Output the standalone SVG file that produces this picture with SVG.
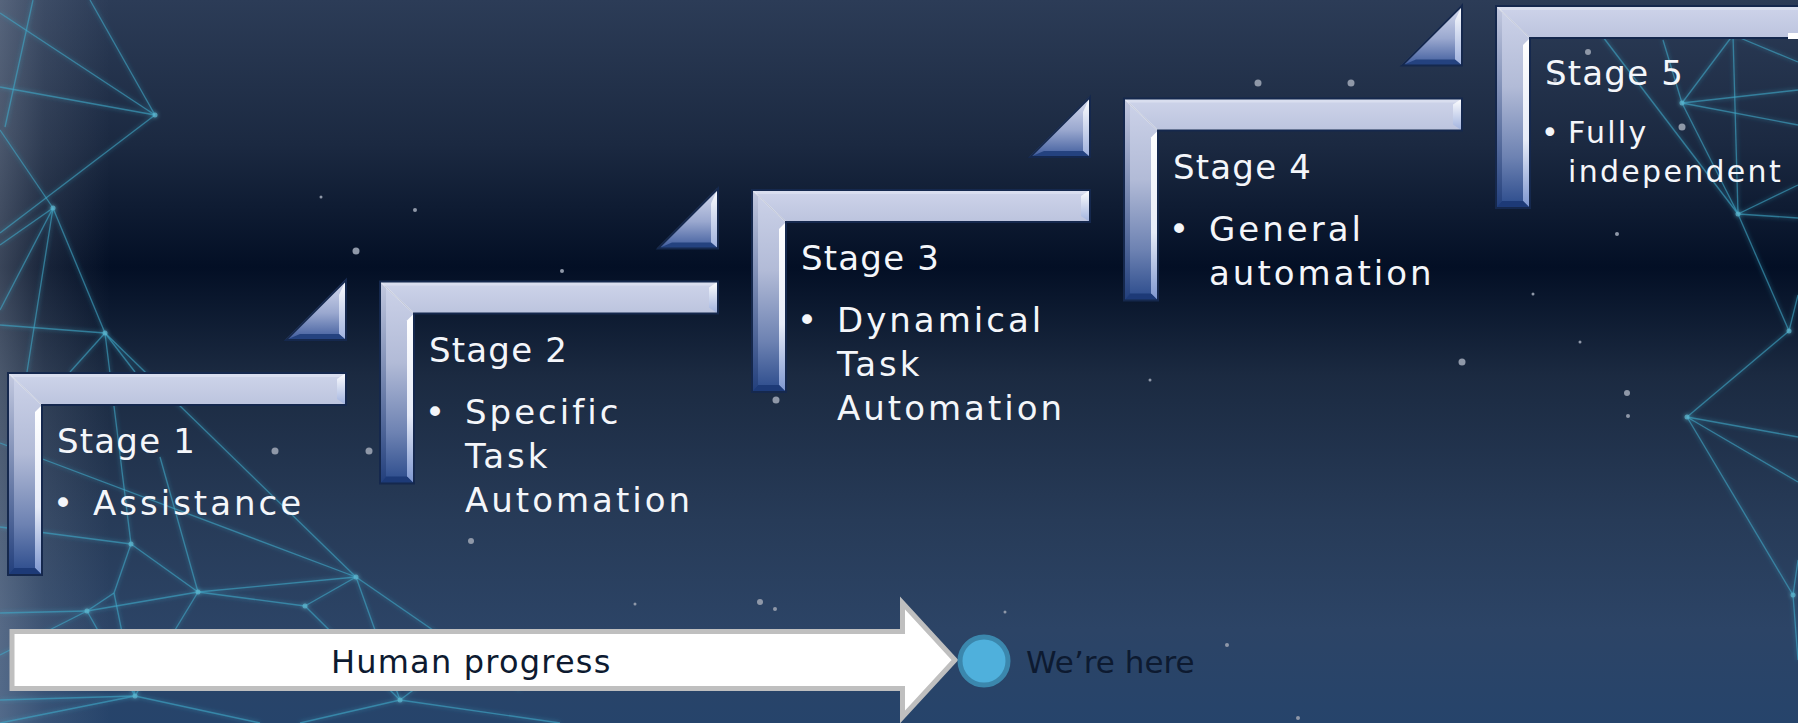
<svg xmlns="http://www.w3.org/2000/svg" width="1798" height="723" viewBox="0 0 1798 723">
<defs>
<linearGradient id="bg" x1="0" y1="0" x2="0" y2="1">
<stop offset="0" stop-color="#2c3c57"/>
<stop offset="0.2" stop-color="#1b2941"/>
<stop offset="0.37" stop-color="#030f25"/>
<stop offset="0.52" stop-color="#1b2a41"/>
<stop offset="0.72" stop-color="#273b58"/>
<stop offset="0.87" stop-color="#2c4466"/>
<stop offset="1" stop-color="#26446b"/>
</linearGradient>
<linearGradient id="vig" x1="0" y1="0" x2="1" y2="0">
<stop offset="0" stop-color="#b8c2d2" stop-opacity="0.3"/>
<stop offset="0.4" stop-color="#b8c2d2" stop-opacity="0.12"/>
<stop offset="1" stop-color="#b8c2d2" stop-opacity="0"/>
</linearGradient>
<linearGradient id="hbar" x1="0" y1="0" x2="0" y2="1">
<stop offset="0" stop-color="#ced4ea"/>
<stop offset="1" stop-color="#bcc4de"/>
</linearGradient>
<linearGradient id="vbar" x1="0" y1="0" x2="0" y2="1">
<stop offset="0" stop-color="#cdd3e9"/>
<stop offset="0.4" stop-color="#b2bbd7"/>
<stop offset="0.75" stop-color="#6d82b2"/>
<stop offset="1" stop-color="#2a4a8b"/>
</linearGradient>
<linearGradient id="vhi" x1="0" y1="0" x2="0" y2="1">
<stop offset="0" stop-color="#ffffff"/>
<stop offset="0.6" stop-color="#e6ebf8"/>
<stop offset="1" stop-color="#7d96cf"/>
</linearGradient>
<linearGradient id="vlo" x1="0" y1="0" x2="0" y2="1">
<stop offset="0" stop-color="#c3c9e0"/>
<stop offset="1" stop-color="#223f7c"/>
</linearGradient>
<linearGradient id="tri" x1="0" y1="0" x2="0" y2="1">
<stop offset="0" stop-color="#d7dcef"/>
<stop offset="0.55" stop-color="#9aa8cf"/>
<stop offset="1" stop-color="#3e5b9c"/>
</linearGradient>
<linearGradient id="trihi" x1="0" y1="0" x2="0" y2="1">
<stop offset="0" stop-color="#ffffff"/>
<stop offset="1" stop-color="#9fb1de"/>
</linearGradient>
<filter id="glow" x="-5%" y="-5%" width="110%" height="110%">
<feGaussianBlur stdDeviation="2.2" result="b"/>
<feMerge><feMergeNode in="b"/><feMergeNode in="SourceGraphic"/></feMerge>
</filter>
<g id="bracket">
<path d="M0,0 L34,32 L34,202 L0,202 Z" fill="url(#vbar)"/>
<path d="M0,0 L338,0 L338,32 L34,32 Z" fill="url(#hbar)"/>
<path d="M0,0 L338,0 L333,4 L4,4 Z" fill="#d9deef"/>
<path d="M338,0 L338,32 L329,26 L329,6 Z" fill="url(#trihi)"/>
<path d="M34,32 L34,202 L27,195 L27,39 Z" fill="url(#vhi)"/>
<path d="M0,0 L6,6 L6,195 L0,202 Z" fill="url(#vlo)"/>
<path d="M0,202 L34,202 L27,195 L6,195 Z" fill="#1d3a77"/>
<path d="M0,0 L34,32" stroke="#ffffff" stroke-opacity="0.45" stroke-width="1.2"/>
<path d="M0,0 H338 V32 H34 V202 H0 Z" fill="none" stroke="#15284d" stroke-width="2"/>
<path d="M338,-93 L338,-33 L278,-33 Z" fill="url(#tri)"/>
<path d="M338,-93 L338,-33 L331,-39 L331,-78 Z" fill="url(#trihi)"/>
<path d="M278,-33 L338,-33 L331,-39 L292,-39 Z" fill="#24427f"/>
<path d="M338,-93 L278,-33" stroke="#ffffff" stroke-opacity="0.5" stroke-width="1.5"/>
<path d="M338,-93 L338,-33 L278,-33 Z" fill="none" stroke="#15284d" stroke-width="2"/>
</g>
</defs>
<style>
.net line{stroke:#3fa9c8;stroke-width:1.3;stroke-opacity:0.6}
.net circle{fill:#5fb8d0;fill-opacity:0.7}
.star{fill:#8f98a8}
.ttl{font-family:"DejaVu Sans",sans-serif;font-size:34px;fill:#f4f6fa;letter-spacing:1.2px}
.bul{font-family:"DejaVu Sans",sans-serif;font-size:34px;fill:#f4f6fa;letter-spacing:3px}
.bul5{font-family:"DejaVu Sans",sans-serif;font-size:30px;fill:#f4f6fa;letter-spacing:2.3px}
.dark{font-family:"DejaVu Sans",sans-serif;font-size:31px;fill:#0d1a30}
</style>
<rect x="0" y="0" width="1798" height="723" fill="url(#bg)"/>
<rect x="0" y="0" width="110" height="723" fill="url(#vig)"/>
<g class="net" filter="url(#glow)">
<line x1="0" y1="13" x2="155" y2="115"/>
<line x1="0" y1="87" x2="155" y2="115"/>
<line x1="90" y1="0" x2="155" y2="115"/>
<line x1="33" y1="0" x2="5" y2="127"/>
<line x1="155" y1="115" x2="0" y2="233"/>
<line x1="0" y1="130" x2="53" y2="208"/>
<line x1="53" y1="208" x2="0" y2="245"/>
<line x1="53" y1="208" x2="105" y2="333"/>
<line x1="53" y1="208" x2="0" y2="310"/>
<line x1="53" y1="208" x2="27" y2="372"/>
<line x1="0" y1="325" x2="105" y2="333"/>
<line x1="105" y1="333" x2="70" y2="372"/>
<line x1="105" y1="333" x2="135" y2="372"/>
<line x1="105" y1="333" x2="356" y2="577"/>
<line x1="0" y1="443" x2="356" y2="577"/>
<line x1="105" y1="333" x2="131" y2="544"/>
<line x1="0" y1="527" x2="131" y2="544"/>
<line x1="131" y1="544" x2="114" y2="593"/>
<line x1="131" y1="544" x2="198" y2="592"/>
<line x1="114" y1="593" x2="87" y2="611"/>
<line x1="87" y1="611" x2="0" y2="613"/>
<line x1="0" y1="655" x2="87" y2="611"/>
<line x1="87" y1="611" x2="198" y2="592"/>
<line x1="198" y1="592" x2="305" y2="606"/>
<line x1="198" y1="592" x2="356" y2="577"/>
<line x1="305" y1="606" x2="356" y2="577"/>
<line x1="356" y1="577" x2="520" y2="690"/>
<line x1="305" y1="606" x2="400" y2="700"/>
<line x1="356" y1="577" x2="400" y2="700"/>
<line x1="135" y1="696" x2="114" y2="593"/>
<line x1="135" y1="696" x2="0" y2="723"/>
<line x1="135" y1="696" x2="87" y2="611"/>
<line x1="135" y1="696" x2="260" y2="723"/>
<line x1="135" y1="696" x2="198" y2="592"/>
<line x1="400" y1="700" x2="560" y2="723"/>
<line x1="400" y1="700" x2="300" y2="723"/>
<line x1="400" y1="700" x2="480" y2="640"/>
<line x1="0" y1="700" x2="135" y2="696"/>
<line x1="198" y1="592" x2="160" y2="457"/>
<line x1="1603" y1="37" x2="1738" y2="214"/>
<line x1="1663" y1="40" x2="1682" y2="103"/>
<line x1="1682" y1="103" x2="1798" y2="90"/>
<line x1="1682" y1="103" x2="1798" y2="125"/>
<line x1="1682" y1="103" x2="1738" y2="214"/>
<line x1="1733" y1="35" x2="1738" y2="214"/>
<line x1="1733" y1="35" x2="1798" y2="18"/>
<line x1="1733" y1="35" x2="1798" y2="62"/>
<line x1="1733" y1="35" x2="1682" y2="103"/>
<line x1="1738" y1="214" x2="1798" y2="218"/>
<line x1="1738" y1="214" x2="1798" y2="185"/>
<line x1="1738" y1="214" x2="1789" y2="331"/>
<line x1="1789" y1="331" x2="1798" y2="295"/>
<line x1="1789" y1="331" x2="1687" y2="417"/>
<line x1="1687" y1="417" x2="1798" y2="437"/>
<line x1="1687" y1="417" x2="1798" y2="482"/>
<line x1="1687" y1="417" x2="1793" y2="595"/>
<line x1="1793" y1="595" x2="1798" y2="560"/>
<line x1="1793" y1="595" x2="1798" y2="660"/>
<circle cx="155" cy="115" r="2.5"/><circle cx="53" cy="208" r="2.5"/><circle cx="105" cy="333" r="2.5"/>
<circle cx="131" cy="544" r="2.5"/><circle cx="198" cy="592" r="2.5"/><circle cx="305" cy="606" r="2.5"/>
<circle cx="356" cy="577" r="2.5"/><circle cx="87" cy="611" r="2.5"/><circle cx="135" cy="696" r="2.5"/>
<circle cx="400" cy="700" r="2.5"/><circle cx="1738" cy="214" r="2.5"/><circle cx="1789" cy="331" r="2.5"/>
<circle cx="1687" cy="417" r="2.5"/><circle cx="1793" cy="595" r="2.5"/><circle cx="1682" cy="103" r="2.5"/>
</g>
<g id="stars">
<circle class="star" cx="275" cy="451" r="3.5"/><circle class="star" cx="369" cy="451" r="3.5"/>
<circle class="star" cx="415" cy="210" r="2"/><circle class="star" cx="356" cy="251" r="3.5"/>
<circle class="star" cx="562" cy="271" r="2"/><circle class="star" cx="1258" cy="83" r="3.5"/>
<circle class="star" cx="1351" cy="83" r="3.5"/><circle class="star" cx="1462" cy="362" r="3.5"/>
<circle class="star" cx="1628" cy="416" r="2"/><circle class="star" cx="1588" cy="52" r="3"/>
<circle class="star" cx="1682" cy="127" r="3.5"/><circle class="star" cx="776" cy="400" r="3.5"/>
<circle class="star" cx="471" cy="541" r="3"/><circle class="star" cx="760" cy="602" r="3"/>
<circle class="star" cx="1298" cy="718" r="2"/><circle class="star" cx="1627" cy="393" r="3"/>
<circle class="star" cx="1617" cy="234" r="2"/><circle class="star" cx="321" cy="197" r="1.5"/>
<circle class="star" cx="635" cy="604" r="1.5"/>
<circle class="star" cx="775" cy="609" r="2"/><circle class="star" cx="883" cy="664" r="3"/>
<circle class="star" cx="1005" cy="612" r="1.5"/><circle class="star" cx="1227" cy="645" r="2"/>
<circle class="star" cx="1150" cy="380" r="1.5"/><circle class="star" cx="1533" cy="294" r="1.5"/>
<circle class="star" cx="1580" cy="342" r="1.5"/><circle class="star" cx="1555" cy="80" r="2"/>
</g>
<g id="stage1" transform="translate(8,373)">
<use href="#bracket"/>
<text class="ttl" x="49" y="80">Stage 1</text>
<text class="bul" x="45" y="142">•</text><text class="bul" x="85" y="142">Assistance</text>
</g>
<g id="stage2" transform="translate(380,281.5)">
<use href="#bracket"/>
<text class="ttl" x="49" y="80">Stage 2</text>
<text class="bul" x="45" y="142">•</text><text class="bul" x="85" y="142">Specific</text>
<text class="bul" x="85" y="186">Task</text>
<text class="bul" x="85" y="230">Automation</text>
</g>
<g id="stage3" transform="translate(752,190)">
<use href="#bracket"/>
<text class="ttl" x="49" y="80">Stage 3</text>
<text class="bul" x="45" y="142">•</text><text class="bul" x="85" y="142">Dynamical</text>
<text class="bul" x="85" y="186">Task</text>
<text class="bul" x="85" y="230">Automation</text>
</g>
<g id="stage4" transform="translate(1124,98.5)">
<use href="#bracket"/>
<text class="ttl" x="49" y="80">Stage 4</text>
<text class="bul" x="45" y="142">•</text><text class="bul" x="85" y="142">General</text>
<text class="bul" x="85" y="186">automation</text>
</g>
<g id="stage5" transform="translate(1496,6)">
<use href="#bracket"/>
<text class="ttl" x="49" y="79">Stage 5</text>
<text class="bul5" x="45" y="137">•</text><text class="bul5" x="72" y="137">Fully</text>
<text class="bul5" x="72" y="176">independent</text>
</g>
<rect x="1788" y="33" width="10" height="6" fill="#ffffff"/>
<g id="progress">
<path d="M12,631.5 L902.5,631.5 L902.5,603 L955,660 L902.5,717 L902.5,688.5 L12,688.5 Z" fill="#ffffff" stroke="#bfbfbf" stroke-width="5"/>
<text class="dark" x="331" y="673" style="font-size:32px;letter-spacing:1.2px">Human progress</text>
</g>
<g id="here">
<circle cx="984" cy="661" r="24" fill="#4fb0dc" stroke="#3b87ad" stroke-width="5"/>
<text class="dark" x="1026" y="673">We’re here</text>
</g>
</svg>
